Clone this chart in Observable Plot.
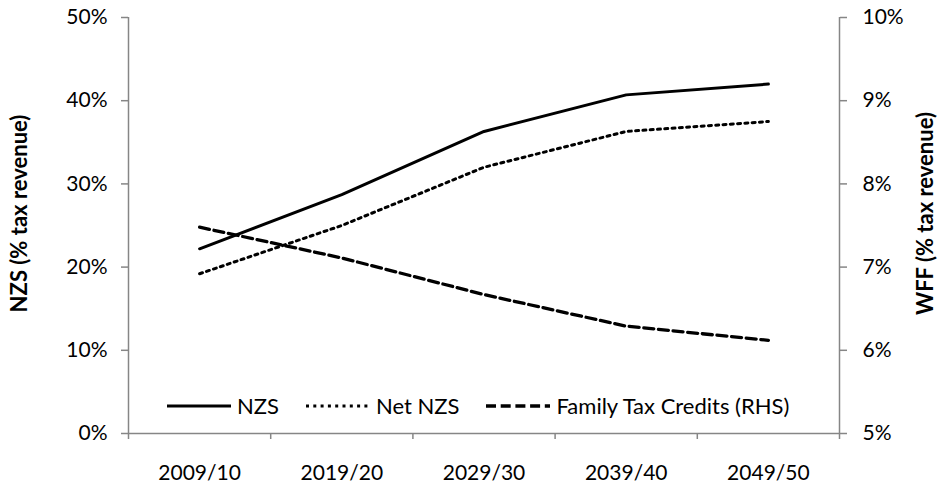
<!DOCTYPE html>
<html>
<head>
<meta charset="utf-8">
<script src="https://cdn.jsdelivr.net/npm/d3@7"></script>
<script src="https://cdn.jsdelivr.net/npm/@observablehq/plot@0.6"></script>
<style>
  html, body { margin: 0; padding: 0; background: #fff; }
  #wrap { position: relative; width: 940px; height: 492px; font-family: Lato, "Open Sans", sans-serif; }
  #legend { position: absolute; left: 167px; top: 392px; display: flex; align-items: center; font-size: 22px; color: #000; white-space: nowrap; }
  #legend .item { display: flex; align-items: center; margin-right: 27px; }
  #legend svg { margin-right: 6px; }
</style>
</head>
<body>
<div id="wrap"></div>
<script>
const years = ["2009/10", "2019/20", "2029/30", "2039/40", "2049/50"];
const nzs = [22.2, 28.7, 36.3, 40.7, 42.0];
const netNzs = [19.2, 25.0, 32.0, 36.3, 37.5];
const familyTaxCredits = [7.48, 7.11, 6.67, 6.29, 6.12];
const leftTicks = [0, 10, 20, 30, 40, 50];
const rightTicks = [5, 6, 7, 8, 9, 10];
const leftTitle = "NZS (% tax revenue)";
const rightTitle = "WFF (% tax revenue)";
const seriesNames = ["NZS", "Net NZS", "Family Tax Credits (RHS)"];

// right axis (5%–10%) mapped onto left scale (0%–50%)
const toLeft = v => (v - 5) * 10;
const idx = years.map((_, i) => i);
const bounds = d3.range(-0.5, years.length, 1);

const gray = "#868686";
const styles = [
  {stroke: "#000", strokeWidth: 3},
  {stroke: "#000", strokeWidth: 3, strokeDasharray: "3,4.3"},
  {stroke: "#000", strokeWidth: 3.3, strokeDasharray: "10,4.7"}
];

const chart = Plot.plot({
  width: 940,
  height: 492,
  marginLeft: 128,
  marginRight: 101,
  marginTop: 17,
  marginBottom: 59,
  style: {fontFamily: "Lato, 'Open Sans', sans-serif", fontSize: "21px", color: "#000", background: "#fff"},
  x: {domain: [-0.5, years.length - 0.5], axis: null},
  y: {domain: [0, 50], axis: null},
  marks: [
    Plot.ruleY([0], {stroke: gray, strokeWidth: 1.5}),
    Plot.ruleX([-0.5, years.length - 0.5], {stroke: gray, strokeWidth: 1.5}),
    Plot.axisX(bounds, {anchor: "bottom", tickSize: 6, tickFormat: () => "", stroke: gray, strokeWidth: 1.5, label: null}),
    Plot.axisX(idx, {anchor: "bottom", tickSize: 0, tickPadding: 32, tickFormat: i => years[i], fill: "#000", fontSize: 21, label: null}),
    Plot.axisY(leftTicks, {anchor: "left", tickSize: 7, tickPadding: 14, tickFormat: d => d + "%", stroke: gray, strokeWidth: 1.5, fill: "#000", fontSize: 21, label: null}),
    Plot.axisY(rightTicks.map(toLeft), {anchor: "right", tickSize: 7, tickPadding: 16, tickFormat: (d, i) => rightTicks[i] + "%", stroke: gray, strokeWidth: 1.5, fill: "#000", fontSize: 21, label: null}),
    Plot.text([leftTitle], {frameAnchor: "left", rotate: -90, dx: -109, dy: -12, fontWeight: "bold", fontSize: 22, fill: "#000", textAnchor: "middle", lineAnchor: "middle"}),
    Plot.text([rightTitle], {frameAnchor: "right", rotate: -90, dx: 86, dy: -12, fontWeight: "bold", fontSize: 22, fill: "#000", textAnchor: "middle", lineAnchor: "middle"}),
    Plot.line(nzs, {x: (d, i) => i, y: d => d, ...styles[0]}),
    Plot.line(netNzs, {x: (d, i) => i, y: d => d, ...styles[1]}),
    Plot.line(familyTaxCredits, {x: (d, i) => i, y: d => toLeft(d), ...styles[2]})
  ]
});

const wrap = document.getElementById("wrap");
wrap.appendChild(chart);

// legend overlay
const legend = document.createElement("div");
legend.id = "legend";
seriesNames.forEach((name, k) => {
  const item = document.createElement("div");
  item.className = "item";
  const s = styles[k];
  item.innerHTML = `<svg width="64" height="10"><line x1="0" x2="64" y1="5" y2="5" stroke="${s.stroke}" stroke-width="${s.strokeWidth}" ${s.strokeDasharray ? `stroke-dasharray="${s.strokeDasharray}"` : ""}/></svg><span>${name}</span>`;
  legend.appendChild(item);
});
wrap.appendChild(legend);
</script>
</body>
</html>
